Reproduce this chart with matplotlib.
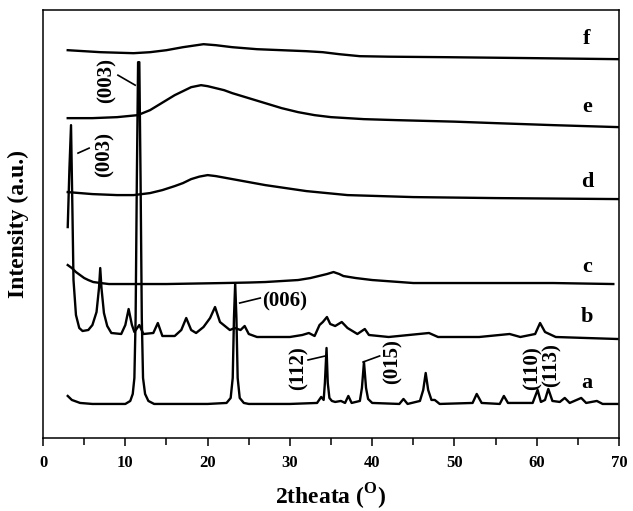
import matplotlib

matplotlib.use("Agg")
import matplotlib.pyplot as plt
from matplotlib.ticker import MultipleLocator

# ---------------------------------------------------------------------------
# XRD patterns, stacked (intensity in arbitrary units, offsets included)
# ---------------------------------------------------------------------------

a_2theta = [3.0, 3.5, 4.5, 6.0, 10.0, 10.6, 10.9, 11.1, 11.25, 11.4, 11.55, 11.7, 11.85,
            12.0, 12.15, 12.4, 12.8, 13.5, 20.0, 22.3, 22.8, 23.05, 23.2, 23.35, 23.5,
            23.65, 23.9, 24.4, 25.0, 30.0, 33.3, 33.8, 34.1, 34.25, 34.45, 34.6, 34.8,
            35.1, 35.5, 36.2, 36.7, 37.1, 37.5, 38.5, 38.75, 39.0, 39.25, 39.5, 40.0,
            43.3, 43.8, 44.3, 45.8, 46.2, 46.5, 46.8, 47.2, 47.6, 48.2, 52.2, 52.7,
            53.3, 55.5, 56.0, 56.5, 59.5, 60.1, 60.5, 61.0, 61.4, 61.9, 62.8, 63.4,
            64.0, 65.4, 66.0, 67.3, 68.0, 69.8]
a_int = [42, 38, 35, 34, 34, 37, 44, 60, 120, 260, 376, 376, 260,
         120, 60, 44, 37, 34, 34, 35, 40, 60, 120, 155, 120,
         60, 40, 35, 34, 34, 35, 41, 38, 55, 90, 55, 40,
         37, 36, 37, 35, 42, 35, 37, 50, 76, 50, 39, 35,
         34, 39, 34, 37, 48, 65, 48, 38, 38, 34, 35, 44,
         35, 34, 42, 35, 35, 48, 36, 38, 49, 37, 36, 40,
         35, 40, 35, 37, 34, 34]

b_2theta = [3.0, 3.2, 3.4, 3.55, 3.7, 4.0, 4.4, 4.8, 5.5, 6.0, 6.5, 6.8, 6.95, 7.1,
            7.4, 7.8, 8.3, 9.5, 10.0, 10.4, 10.8, 11.1, 11.7, 12.2, 13.4, 13.95, 14.5,
            16.0, 16.8, 17.4, 18.0, 18.6, 19.5, 20.3, 20.9, 21.5, 22.7, 23.3, 24.0,
            24.5, 25.0, 26.0, 30.0, 31.5, 32.3, 33.0, 33.6, 34.0, 34.5, 34.9, 35.5,
            36.3, 37.0, 38.2, 39.1, 39.6, 42.0, 46.9, 48.0, 53.0, 56.7, 58.0, 59.8,
            60.4, 61.0, 62.3, 66.0, 69.8]
b_int = [211, 268, 313, 238, 158, 123, 110, 107, 108, 113, 126, 150, 170, 150,
         125, 112, 105, 104, 113, 129, 113, 106, 113, 104, 105, 115, 102,
         102, 108, 120, 108, 105, 111, 120, 131, 116, 108, 110, 108,
         112, 104, 101, 101, 103, 105, 102, 113, 116, 121, 114, 112,
         116, 110, 104, 109, 103, 101, 105, 101, 101, 104, 101, 104,
         115, 106, 101, 100, 99]

c_2theta = [3.0, 3.5, 4.0, 4.5, 5.0, 5.5, 6.1, 7.0, 8.0, 15.0, 22.0, 25.0, 27.0, 29.0,
            31.0, 32.5, 33.5, 34.5, 35.3, 36.0, 36.5, 38.0, 40.0, 42.5, 45.0, 55.0,
            62.0, 69.3]
c_int = [173, 170, 166, 163, 160, 158, 156, 155, 154, 154, 155, 155.5, 156, 157,
         158, 160, 162, 164, 166, 164, 162, 160, 158, 156.5, 155, 155,
         155, 154]

d_2theta = [3.0, 6.0, 9.0, 11.0, 13.0, 14.5, 16.0, 17.0, 18.0, 19.0, 20.0, 21.0, 22.0,
            23.0, 25.0, 27.0, 29.5, 32.0, 34.5, 37.0, 41.0, 45.0, 55.0, 70.0]
d_int = [246, 244, 243, 243, 245, 248, 252, 255, 259, 261.5, 263, 262, 260.5,
         259, 256, 253, 250, 247, 245, 243, 242, 241, 240, 239]

e_2theta = [3.0, 6.0, 9.0, 11.5, 13.0, 14.0, 15.0, 16.0, 17.0, 18.0, 19.2, 20.0, 21.0,
            22.0, 23.0, 25.0, 27.0, 29.0, 31.0, 33.0, 35.0, 39.0, 43.0, 50.0, 55.0,
            62.0, 70.0]
e_int = [320, 320, 321, 323, 328, 333, 338, 343, 347, 351, 353, 352, 350,
         348, 345, 340, 335, 330, 326, 323, 321, 319, 318, 316.5, 315,
         313, 311]

f_2theta = [3.0, 5.0, 7.0, 9.0, 11.0, 13.0, 15.0, 17.0, 19.5, 21.0, 23.0, 26.0, 29.0,
            32.0, 34.0, 36.0, 38.5, 42.0, 49.0, 60.0, 70.0]
f_int = [388, 387, 386, 385.5, 385, 386, 388, 391, 394, 393, 391, 389, 388,
         387, 386, 384, 382, 381.5, 381, 380, 379]

series = [
    ("a", a_2theta, a_int),
    ("b", b_2theta, b_int),
    ("c", c_2theta, c_int),
    ("d", d_2theta, d_int),
    ("e", e_2theta, e_int),
    ("f", f_2theta, f_int),
]

# sample letters at the right-hand side
letter_x = 66.1
letter_y = [55, 121, 171, 256, 331, 399]

# (hkl) labels: text, x, y, rotation, leader line (x0, y0, x1, y1)
peak_labels = [
    ("(003)", 7.7, 358, 90, (9.1, 363, 11.2, 353)),
    ("(003)", 7.5, 284, 90, (4.25, 285, 5.6, 290)),
    ("(006)", 26.6, 137, 0, (23.9, 135, 26.4, 140)),
    ("(112)", 31.0, 70, 90, (32.2, 78, 34.3, 82)),
    ("(015)", 42.5, 76, 90, (38.9, 76, 40.9, 82)),
    ("(110)", 59.5, 70, 90, None),
    ("(113)", 61.8, 73, 90, None),
]

plt.rcParams["font.family"] = ["Liberation Serif", "DejaVu Serif"]
plt.rcParams["font.weight"] = "bold"
plt.rcParams["mathtext.fontset"] = "custom"
plt.rcParams["mathtext.rm"] = "Liberation Serif:bold"

fig = plt.figure(figsize=(6.33, 5.11), dpi=100)
ax = fig.add_axes([0.068, 0.143, 0.910, 0.837])

for name, x, y in series:
    ax.plot(x, y, color="black", lw=1.7)

for name, yy in zip("abcdef", letter_y):
    ax.text(letter_x, yy, name, fontsize=16, fontweight="bold", ha="center", va="center")

for txt, tx, ty, rot, seg in peak_labels:
    ax.text(tx, ty, txt, fontsize=15, fontweight="bold", rotation=rot,
            ha="left" if rot == 0 else "center", va="center")
    if seg is not None:
        ax.plot([seg[0], seg[2]], [seg[1], seg[3]], color="black", lw=1.2)

ax.set_xlim(0, 70)
ax.set_ylim(0, 428)
ax.xaxis.set_major_locator(MultipleLocator(10))
ax.xaxis.set_minor_locator(MultipleLocator(5))
ax.set_yticks([])
ax.tick_params(axis="x", which="major", direction="out", length=6, width=1.1,
               pad=6, labelsize=12)
ax.tick_params(axis="x", which="minor", direction="out", length=5, width=1.1)
for lbl in ax.get_xticklabels():
    lbl.set_fontweight("bold")
for sp in ax.spines.values():
    sp.set_linewidth(1.1)

ax.set_xlabel(r"2theata ($^{\mathrm{O}}$)", fontsize=17, fontweight="bold", labelpad=8)
ax.set_ylabel("Intensity (a.u.)", fontsize=17, fontweight="bold", labelpad=10)

fig.savefig("out.png", dpi=100)
